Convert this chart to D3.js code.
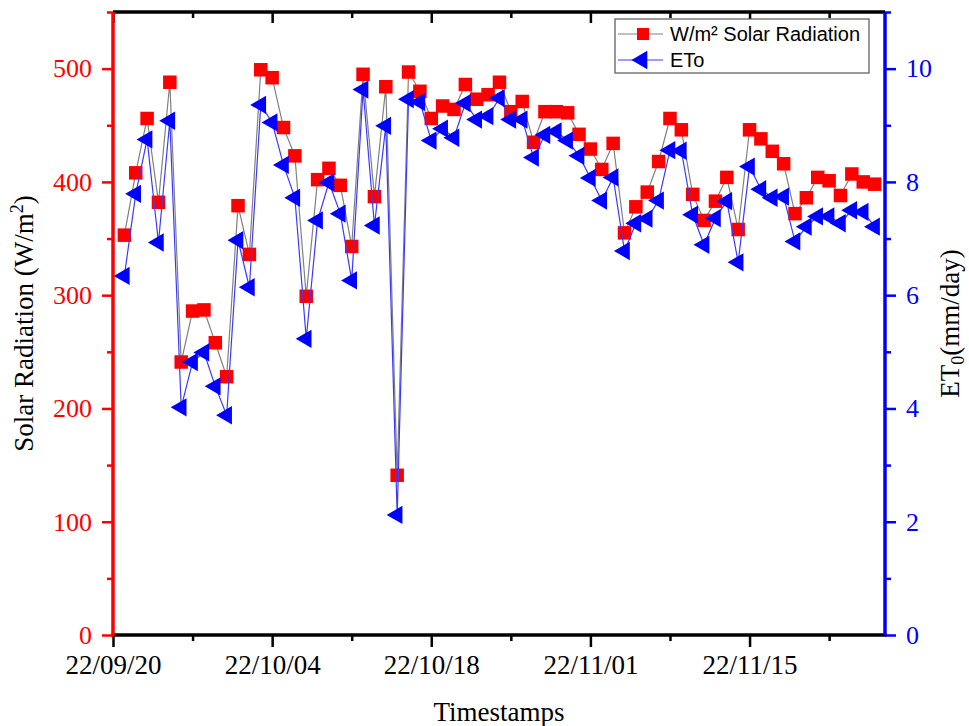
<!DOCTYPE html>
<html>
<head>
<meta charset="utf-8">
<script src="https://cdn.jsdelivr.net/npm/d3@7"></script>
<style>
body { margin: 0; background: #fff; }
svg { display: block; }
</style>
</head>
<body>
<svg id="chart"></svg>
<script>
var dates = [
    "2022-09-21","2022-09-22","2022-09-23","2022-09-24","2022-09-25","2022-09-26","2022-09-27","2022-09-28","2022-09-29","2022-09-30",
    "2022-10-01","2022-10-02","2022-10-03","2022-10-04","2022-10-05","2022-10-06","2022-10-07","2022-10-08","2022-10-09","2022-10-10",
    "2022-10-11","2022-10-12","2022-10-13","2022-10-14","2022-10-15","2022-10-16","2022-10-17","2022-10-18","2022-10-19","2022-10-20",
    "2022-10-21","2022-10-22","2022-10-23","2022-10-24","2022-10-25","2022-10-26","2022-10-27","2022-10-28","2022-10-29","2022-10-30",
    "2022-10-31","2022-11-01","2022-11-02","2022-11-03","2022-11-04","2022-11-05","2022-11-06","2022-11-07","2022-11-08","2022-11-09",
    "2022-11-10","2022-11-11","2022-11-12","2022-11-13","2022-11-14","2022-11-15","2022-11-16","2022-11-17","2022-11-18","2022-11-19",
    "2022-11-20","2022-11-21","2022-11-22","2022-11-23","2022-11-24","2022-11-25","2022-11-26"
];

// W/m2
var solar = [
    353, 408, 456, 382, 488, 241, 286, 287, 258, 228,
    379, 336, 499, 492, 448, 423, 299, 402, 412, 397,
    343, 495, 387, 484, 141, 497, 480, 456, 467, 464,
    486, 473, 477, 488, 462, 471, 435, 462, 462, 461,
    442, 429, 411, 434, 355, 378, 391, 418, 456, 446,
    389, 366, 383, 404, 358, 446, 438, 427, 416, 372,
    386, 404, 401, 388, 407, 400, 398
];

// mm/day
var eto = [
    6.34, 7.79, 8.75, 6.93, 9.08, 4.02, 4.82, 4.99, 4.39, 3.88,
    6.97, 6.14, 9.36, 9.05, 8.30, 7.72, 5.23, 7.32, 7.99, 7.44,
    6.26, 9.63, 7.23, 8.99, 2.12, 9.46, 9.41, 8.73, 8.94, 8.78,
    9.39, 9.10, 9.16, 9.48, 9.10, 9.10, 8.43, 8.83, 8.89, 8.73,
    8.46, 8.07, 7.67, 8.08, 6.78, 7.27, 7.35, 7.67, 8.56, 8.55,
    7.42, 6.89, 7.36, 7.66, 6.58, 8.27, 7.87, 7.72, 7.74, 6.95,
    7.21, 7.39, 7.39, 7.27, 7.50, 7.47, 7.21
];

var majorTicks = ["2022-09-20", "2022-10-04", "2022-10-18", "2022-11-01", "2022-11-15"];
var minorTicks = ["2022-09-27", "2022-10-11", "2022-10-25", "2022-11-08", "2022-11-22"];
var leftTicks = [0, 100, 200, 300, 400, 500];
var rightTicks = [0, 2, 4, 6, 8, 10];
var seriesNames = ["W/m\u00b2 Solar Radiation", "ETo"];

var parse = d3.timeParse("%Y-%m-%d");
var data = dates.map(function(d, i) {
    return {date: parse(d), solar: solar[i], eto: eto[i]};
});

var W = 969, H = 726;
var margin = {top: 12, right: 84, bottom: 91, left: 113};
var width = W - margin.left - margin.right;
var height = H - margin.top - margin.bottom;

var svg = d3.select("#chart")
    .attr("width", W)
    .attr("height", H);

svg.append("rect").attr("width", W).attr("height", H).attr("fill", "#fff");

var g = svg.append("g")
    .attr("transform", "translate(" + margin.left + "," + margin.top + ")");

var x = d3.scaleTime()
    .domain([parse("2022-09-20"), new Date(2022, 10, 26, 22)])
    .range([0, width]);
var yL = d3.scaleLinear().domain([0, 550]).range([height, 0]);
var yR = d3.scaleLinear().domain([0, 11]).range([height, 0]);

g.append("clipPath").attr("id", "clip")
    .append("rect").attr("width", width).attr("height", height);

var plot = g.append("g").attr("clip-path", "url(#clip)");

var lineSolar = d3.line()
    .x(function(d) { return x(d.date); })
    .y(function(d) { return yL(d.solar); });
var lineEto = d3.line()
    .x(function(d) { return x(d.date); })
    .y(function(d) { return yR(d.eto); });

plot.append("path")
    .datum(data)
    .attr("fill", "none")
    .attr("stroke", "#808080")
    .attr("stroke-width", 1.2)
    .attr("d", lineSolar);

var sq = 13.5;
plot.selectAll(".sq")
    .data(data)
    .enter()
    .append("rect")
    .attr("class", "sq")
    .attr("x", function(d) { return x(d.date) - sq / 2; })
    .attr("y", function(d) { return yL(d.solar) - sq / 2; })
    .attr("width", sq)
    .attr("height", sq)
    .attr("fill", "#ff0000");

plot.append("path")
    .datum(data)
    .attr("fill", "none")
    .attr("stroke", "#3a3aff")
    .attr("stroke-width", 1.2)
    .attr("d", lineEto);

var tri = d3.symbol().type(d3.symbolTriangle).size(145);
plot.selectAll(".tri")
    .data(data)
    .enter()
    .append("path")
    .attr("class", "tri")
    .attr("d", tri)
    .attr("transform", function(d) {
        return "translate(" + x(d.date) + "," + yR(d.eto) + ") rotate(-90)";
    })
    .attr("fill", "#0000ff");

// axes
var serif = "'Liberation Serif', 'Times New Roman', serif";
var fmt = d3.timeFormat("%y/%m/%d");

var xAxis = g.append("g")
    .attr("transform", "translate(0," + height + ")")
    .call(d3.axisBottom(x).tickValues(majorTicks.map(parse)).tickFormat(fmt).tickSize(12).tickPadding(8));
xAxis.append("g")
    .call(d3.axisBottom(x).tickValues(minorTicks.map(parse)).tickFormat("").tickSize(6));
xAxis.selectAll("path").attr("stroke-width", 3).attr("d", "M-1.5,0H" + (width + 1.5));
xAxis.selectAll("line").attr("stroke", "#000").attr("stroke-width", 2.5);
xAxis.selectAll("text").attr("font-family", serif).attr("font-size", 27).attr("fill", "#000");

var topAxis = g.append("g")
    .call(d3.axisBottom(x).tickValues(majorTicks.map(parse)).tickFormat("").tickSize(11));
topAxis.append("g")
    .call(d3.axisBottom(x).tickValues(minorTicks.map(parse)).tickFormat("").tickSize(6));
topAxis.selectAll("path").attr("stroke-width", 3).attr("d", "M0,0H" + width);
topAxis.selectAll("line").attr("stroke-width", 2.5);

var leftAxis = g.append("g")
    .call(d3.axisLeft(yL).tickValues(leftTicks).tickSize(11).tickPadding(10));
leftAxis.append("g")
    .call(d3.axisLeft(yL).tickValues(leftTicks.map(function(v) { return v + 50; })).tickFormat("").tickSize(6));
leftAxis.selectAll("path").attr("stroke", "#ff0000").attr("stroke-width", 3).attr("d", "M0,0V" + height);
leftAxis.selectAll("line").attr("stroke", "#ff0000").attr("stroke-width", 2.5);
leftAxis.selectAll("text").attr("font-family", serif).attr("font-size", 26).attr("fill", "#ff0000");

var rightAxis = g.append("g")
    .attr("transform", "translate(" + width + ",0)")
    .call(d3.axisRight(yR).tickValues(rightTicks).tickSize(11).tickPadding(10));
rightAxis.append("g")
    .call(d3.axisRight(yR).tickValues(rightTicks.map(function(v) { return v + 1; })).tickFormat("").tickSize(6));
rightAxis.selectAll("path").attr("stroke", "#0000ff").attr("stroke-width", 3).attr("d", "M0,0V" + height);
rightAxis.selectAll("line").attr("stroke", "#0000ff").attr("stroke-width", 2.5);
rightAxis.selectAll("text").attr("font-family", serif).attr("font-size", 26).attr("fill", "#0000ff");

// titles
var tl = svg.append("text")
    .attr("transform", "translate(33," + (margin.top + height / 2) + ") rotate(-90)")
    .attr("text-anchor", "middle")
    .attr("font-family", serif)
    .attr("font-size", 27);
tl.append("tspan").text("Solar Radiation (W/m");
tl.append("tspan").attr("dy", -10).attr("font-size", 18).text("2");
tl.append("tspan").attr("dy", 10).text(")");

var tr = svg.append("text")
    .attr("transform", "translate(959," + (margin.top + height / 2) + ") rotate(-90)")
    .attr("text-anchor", "middle")
    .attr("font-family", serif)
    .attr("font-size", 27);
tr.append("tspan").text("ET");
tr.append("tspan").attr("dy", 5).attr("font-size", 18).text("0");
tr.append("tspan").attr("dy", -5).text("(mm/day)");

svg.append("text")
    .attr("x", margin.left + width / 2)
    .attr("y", 721)
    .attr("text-anchor", "middle")
    .attr("font-family", serif)
    .attr("font-size", 27)
    .text("Timestamps");

// legend
var lg = svg.append("g").attr("transform", "translate(615,19)");
lg.append("rect")
    .attr("width", 254).attr("height", 54)
    .attr("fill", "#fff").attr("stroke", "#555").attr("stroke-width", 1.2);

var items = lg.selectAll(".item")
    .data(seriesNames)
    .enter()
    .append("g")
    .attr("transform", function(d, i) { return "translate(0," + (15 + i * 26) + ")"; });

items.append("line")
    .attr("x1", 3).attr("x2", 48)
    .attr("stroke", function(d, i) { return i == 0 ? "#808080" : "#3a3aff"; })
    .attr("stroke-width", 1.2);
items.filter(function(d, i) { return i == 0; })
    .append("rect")
    .attr("x", 22).attr("y", -6).attr("width", 12).attr("height", 12)
    .attr("fill", "#ff0000");
items.filter(function(d, i) { return i == 1; })
    .append("path")
    .attr("d", tri)
    .attr("transform", "translate(27,0) rotate(-90)")
    .attr("fill", "#0000ff");
items.append("text")
    .attr("x", 55)
    .attr("dy", "0.35em")
    .attr("font-family", "'Liberation Sans', Arial, sans-serif")
    .attr("font-size", 20)
    .text(function(d) { return d; });
</script>
</body>
</html>
